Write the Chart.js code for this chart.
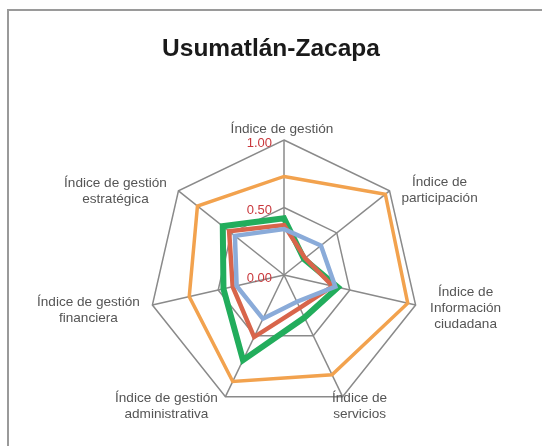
<!DOCTYPE html>
<html>
<head>
<meta charset="utf-8">
<script src="https://cdn.jsdelivr.net/npm/chart.js@4/dist/chart.umd.min.js"></script>
<style>
html,body{margin:0;padding:0;background:#fff;overflow:hidden;width:542px;height:446px;}
#frame{position:absolute;left:7px;top:9px;width:600px;height:500px;border-left:2px solid #9a9a9a;border-top:2px solid #9a9a9a;}
#c{position:absolute;left:0;top:0;}
</style>
</head>
<body>
<div id="frame"></div>
<canvas id="c" width="542" height="446"></canvas>
<script>
const titleText = "Usumatlán-Zacapa";
const categories = [
  ["Índice de gestión"],
  ["Índice de", "participación"],
  ["Índice de", "Información", "ciudadana"],
  ["Índice de", "servicios"],
  ["Índice de gestión", "administrativa"],
  ["Índice de gestión", "financiera"],
  ["Índice de gestión", "estratégica"]
];
const seriesOrange = [0.73, 0.96, 0.94, 0.82, 0.875, 0.72, 0.82];
const seriesBlue   = [0.34, 0.35, 0.39, 0.22, 0.36, 0.36, 0.465];
const seriesRed    = [0.37, 0.20, 0.37, 0.27, 0.51, 0.39, 0.52];
const seriesGreen  = [0.42, 0.19, 0.41, 0.35, 0.70, 0.46, 0.58];
const tickValues = [0, 0.5, 1];
const tickLabels = ["0.00", "0.50", "1.00"];

const FONT = "'Liberation Sans', Arial, Helvetica, sans-serif";
// label block centre offsets relative to outer vertex (layout only)
const labelOffsets = [[-2,-10.5],[50,-1],[50,3],[17,10],[-59,10],[-64,5],[-63,0]];

const overlay = {
  id: 'overlay',
  afterDraw(chart) {
    const ctx = chart.ctx;
    const s = chart.scales.r;
    ctx.save();
    // title
    ctx.fillStyle = '#1a1a1a';
    ctx.font = "bold 24.5px " + FONT;
    ctx.textAlign = 'center';
    ctx.textBaseline = 'middle';
    ctx.fillText(titleText, chart.width / 2, 49.5);
    // point labels
    ctx.fillStyle = '#555555';
    ctx.font = "13.6px " + FONT;
    const lh = 16;
    categories.forEach((lines, i) => {
      const p = s.getPointPosition(i, s.drawingArea);
      const cx = p.x + labelOffsets[i][0];
      const cy = p.y + labelOffsets[i][1];
      const top = cy - (lines.length - 1) * lh / 2;
      lines.forEach((t, k) => ctx.fillText(t, cx, top + k * lh));
    });
    // tick labels
    ctx.fillStyle = '#c9383c';
    ctx.font = "13px " + FONT;
    ctx.textAlign = 'right';
    tickValues.forEach((v, k) => {
      const d = s.getDistanceFromCenterForValue(v);
      ctx.fillText(tickLabels[k], s.xCenter - 12, s.yCenter - d + 3);
    });
    ctx.restore();
  }
};

const mk = (label, data, color, w) => ({
  label, data, borderColor: color, backgroundColor: 'transparent',
  borderWidth: w, fill: false, pointRadius: 0, pointHoverRadius: 0,
  tension: 0, borderJoinStyle: 'miter'
});

new Chart(document.getElementById('c'), {
  type: 'radar',
  data: {
    labels: categories,
    datasets: [
      mk('Serie 1', seriesOrange, '#f2a24e', 3.5),
      mk('Serie 2', seriesBlue, '#8aabd9', 4.5),
      mk('Serie 3', seriesRed, '#d8654b', 4.5),
      mk('Serie 4', seriesGreen, '#22ad5c', 6)
    ]
  },
  options: {
    responsive: false,
    animation: false,
    layout: { padding: { left: 149, right: 122, top: 140, bottom: 35 } },
    plugins: { legend: { display: false }, tooltip: { enabled: false }, title: { display: false } },
    scales: {
      r: {
        min: 0, max: 1,
        ticks: { display: false, stepSize: 0.5 },
        pointLabels: { display: false },
        grid: { color: '#8a8a8a', lineWidth: 1.5 },
        angleLines: { color: '#8a8a8a', lineWidth: 1.5 }
      }
    }
  },
  plugins: [overlay]
});
</script>
</body>
</html>
